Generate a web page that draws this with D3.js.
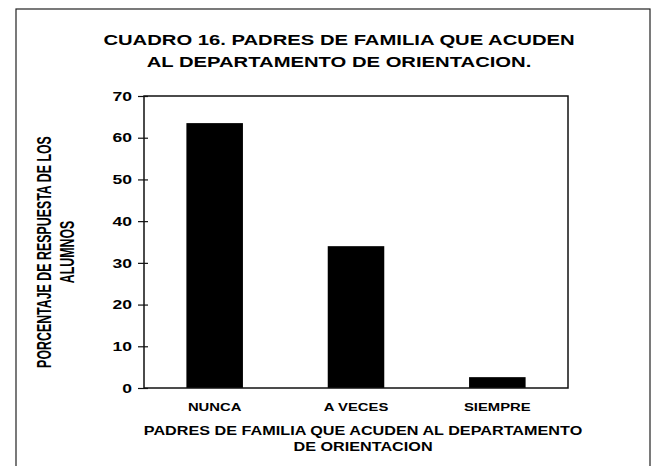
<!DOCTYPE html>
<meta charset="utf-8">
<style>
body { margin: 0; background: #fff; }
text { fill: #000; }
.title { font: bold 15px "Liberation Sans", Arial, sans-serif; text-anchor: middle; }
.ytick text { font: bold 13px "Liberation Sans", Arial, sans-serif; }
.cat { font: bold 11px "Liberation Sans", Arial, sans-serif; text-anchor: middle; }
.xtitle { font: bold 12px "Liberation Sans", Arial, sans-serif; text-anchor: middle; }
.ytitle { font: bold 20px "Liberation Sans", Arial, sans-serif; text-anchor: middle; }
</style>
<body>
<svg id="chart" width="657" height="466"></svg>
<script src="https://cdn.jsdelivr.net/npm/d3@7"></script>
<script>
// data
var categories = ["NUNCA", "A VECES", "SIEMPRE"];
var values = [63.5, 34, 2.6];
var yTicks = [0, 10, 20, 30, 40, 50, 60, 70];

var titleLines = ["CUADRO 16. PADRES DE FAMILIA QUE ACUDEN", "AL DEPARTAMENTO DE ORIENTACION."];
var xTitleLines = ["PADRES DE FAMILIA QUE ACUDEN AL DEPARTAMENTO", "DE ORIENTACION"];
var yTitleLines = ["PORCENTAJE DE RESPUESTA DE LOS", "ALUMNOS"];

var svg = d3.select("#chart");
var plotLeft = 144, plotRight = 568, plotTop = 96, plotBottom = 388;
var wide = 1.35;   // the scanned font is an extended face
var narrow = 0.62; // y title is a condensed face

// outer frame (bottom edge runs off the page)
svg.append("rect")
    .attr("x", 16).attr("y", 9)
    .attr("width", 634).attr("height", 480)
    .attr("fill", "none").attr("stroke", "#222").attr("stroke-width", 1.2);

var x = d3.scaleBand()
    .domain(categories)
    .range([plotLeft, plotRight])
    .paddingInner(0.6)
    .paddingOuter(0.3);

var y = d3.scaleLinear()
    .domain([0, 70])
    .range([plotBottom, plotTop]);

// bars
svg.append("g")
  .selectAll("rect")
  .data(values)
  .enter().append("rect")
    .attr("x", function(d, i) { return x(categories[i]); })
    .attr("y", function(d) { return y(d); })
    .attr("width", x.bandwidth())
    .attr("height", function(d) { return y(0) - y(d); })
    .attr("fill", "#000");

// plot border
svg.append("rect")
    .attr("x", plotLeft).attr("y", plotTop)
    .attr("width", plotRight - plotLeft).attr("height", plotBottom - plotTop)
    .attr("fill", "none").attr("stroke", "#111").attr("stroke-width", 1.5);

// y axis
var yAxis = svg.append("g")
    .attr("class", "ytick")
    .attr("transform", "translate(" + plotLeft + ",0)")
    .call(d3.axisLeft(y).tickValues(yTicks).tickSize(5));
yAxis.select(".domain").remove();
yAxis.selectAll(".tick line")
    .attr("x1", 4).attr("x2", -6)
    .attr("stroke", "#111").attr("stroke-width", 1.2);
yAxis.selectAll(".tick text")
    .attr("x", -12 / wide)
    .attr("transform", "scale(" + wide + ",1)");

// category labels
svg.append("g")
  .selectAll("text")
  .data(categories)
  .enter().append("text")
    .attr("class", "cat")
    .attr("transform", function(d) {
      return "translate(" + (x(d) + x.bandwidth() / 2) + ",411) scale(" + wide + ",1)";
    })
    .text(function(d) { return d; });

// titles
svg.append("g")
  .selectAll("text")
  .data(titleLines)
  .enter().append("text")
    .attr("class", "title")
    .attr("transform", function(d, i) {
      return "translate(339," + (45 + i * 22) + ") scale(" + wide + ",1)";
    })
    .text(function(d) { return d; });

svg.append("g")
  .selectAll("text")
  .data(xTitleLines)
  .enter().append("text")
    .attr("class", "xtitle")
    .attr("transform", function(d, i) {
      return "translate(363," + (435 + i * 16) + ") scale(" + wide + ",1)";
    })
    .text(function(d) { return d; });

svg.append("g")
  .selectAll("text")
  .data(yTitleLines)
  .enter().append("text")
    .attr("class", "ytitle")
    .attr("transform", function(d, i) {
      return "translate(" + (51 + i * 23) + ",252) rotate(-90) scale(" + narrow + ",1)";
    })
    .text(function(d) { return d; });
</script>
</body>
